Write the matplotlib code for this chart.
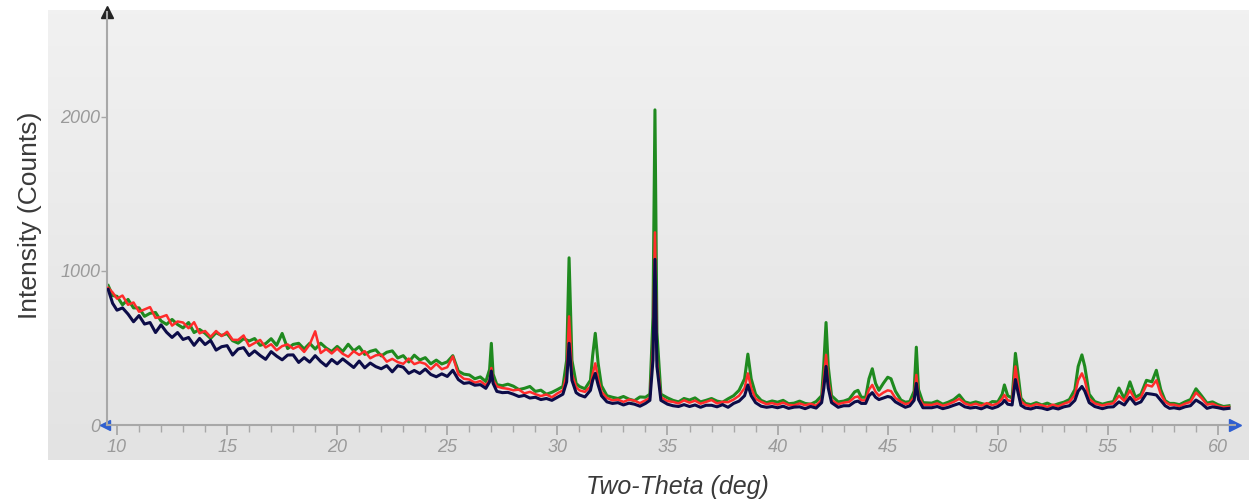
import matplotlib
matplotlib.use("Agg")
import matplotlib.pyplot as plt
import numpy as np

# diffraction pattern (2-theta in deg, intensity in counts)
two_theta = [
    9.6, 9.8,
    10.0, 10.25, 10.5, 10.75,
    11.0, 11.25, 11.5, 11.75,
    12.0, 12.25, 12.5, 12.75,
    13.0, 13.25, 13.5, 13.75,
    14.0, 14.25, 14.5, 14.75,
    15.0, 15.25, 15.5, 15.75,
    16.0, 16.25, 16.5, 16.75,
    17.0, 17.25, 17.5, 17.75,
    18.0, 18.25, 18.5, 18.75,
    19.0, 19.25, 19.5, 19.75,
    20.0, 20.25, 20.5, 20.75,
    21.0, 21.25, 21.5, 21.75,
    22.0, 22.25, 22.5, 22.75,
    23.0, 23.25, 23.5, 23.75,
    24.0, 24.25, 24.5, 24.75,
    25.0, 25.25, 25.5, 25.75,
    26.0, 26.25, 26.5, 26.75, 26.92,
    27.0, 27.08, 27.25, 27.5, 27.75,
    28.0, 28.25, 28.5, 28.75,
    29.0, 29.25, 29.5, 29.75,
    30.0, 30.25, 30.42, 30.53, 30.66, 30.85,
    31.0, 31.25, 31.5, 31.6, 31.72, 31.85,
    32.0, 32.25, 32.5, 32.75,
    33.0, 33.25, 33.5, 33.75,
    34.0, 34.2, 34.34, 34.43, 34.52, 34.7,
    35.0, 35.25, 35.5, 35.75,
    36.0, 36.25, 36.5, 36.75,
    37.0, 37.25, 37.5, 37.75,
    38.0, 38.25, 38.5, 38.65, 38.8,
    39.0, 39.25, 39.5, 39.75,
    40.0, 40.25, 40.5, 40.75,
    41.0, 41.25, 41.5, 41.75,
    42.0, 42.1, 42.2, 42.3, 42.45, 42.75,
    43.0, 43.25, 43.5, 43.65, 43.8,
    44.0, 44.15, 44.3, 44.45, 44.6, 44.8,
    45.0, 45.15, 45.35, 45.6, 45.8,
    46.0, 46.2, 46.3, 46.4, 46.6,
    47.0, 47.25, 47.5, 47.75,
    48.0, 48.25, 48.5, 48.75,
    49.0, 49.25, 49.5, 49.75,
    50.0, 50.2, 50.3, 50.45, 50.65, 50.8, 50.92,
    51.05, 51.25, 51.5, 51.75,
    52.0, 52.25, 52.5, 52.75,
    53.0, 53.25, 53.5, 53.65, 53.82, 53.95,
    54.15, 54.4, 54.75,
    55.0, 55.25, 55.5, 55.75,
    56.0, 56.25, 56.5, 56.75,
    57.0, 57.2, 57.4, 57.6, 57.8,
    58.0, 58.25, 58.5, 58.75,
    59.0, 59.25, 59.5, 59.75,
    60.0, 60.25, 60.5,
]

green = [
    905, 840,
    835, 780, 815, 760,
    760, 705, 725, 730,
    675, 653, 685, 652,
    630, 665, 600, 620,
    595, 562, 599, 581,
    593, 547, 531, 560,
    545, 561, 517, 528,
    560, 517, 594, 496,
    523, 530, 493, 530,
    493, 531, 499, 477,
    510, 477, 524, 481,
    508, 458, 478, 488,
    448, 472, 481, 435,
    450, 409, 453, 422,
    437, 397, 421, 396,
    410, 450, 350, 330,
    325, 300, 312, 282, 360,
    530, 330, 262, 255, 265,
    252, 230, 238, 250,
    218, 226, 200, 212,
    230, 250, 420, 1085, 420, 270,
    250, 235, 290, 450, 595, 400,
    255, 190, 180, 172,
    185, 168, 158, 182,
    180, 200, 700, 2045, 600, 200,
    176, 160, 150, 172,
    162, 176, 150, 160,
    172, 155, 148, 170,
    190, 225, 300, 460, 300,
    200, 160, 145, 156,
    148, 160, 138, 142,
    155, 140, 135, 152,
    190, 400, 665, 380, 190, 150,
    155, 168, 215, 225, 180,
    180, 300, 365, 270, 225, 270,
    310, 300, 220, 162, 148,
    152, 220, 505, 230, 145,
    142, 155, 135, 148,
    165, 195, 150, 140,
    150, 140, 130, 152,
    150, 200, 260, 190, 175, 465, 330,
    175, 140, 132, 145,
    130, 142, 125, 138,
    148, 165, 230, 380, 455, 380,
    200, 152, 135,
    145, 152, 240, 170,
    280, 180, 200, 290,
    280, 355, 230, 158, 140,
    140, 132, 150, 165,
    235, 190, 142, 150,
    132, 120, 125,
]

red = [
    890, 860,
    820, 840, 780, 795,
    735, 750, 765, 695,
    700, 713, 645, 672,
    665, 628, 667, 595,
    610, 572, 610, 577,
    605, 553, 552, 581,
    512, 532, 552, 503,
    524, 485, 512, 523,
    495, 512, 474, 522,
    608, 467, 493, 464,
    496, 462, 443, 479,
    455, 479, 433, 452,
    457, 411, 429, 408,
    397, 431, 395, 408,
    397, 362, 397, 362,
    375, 445, 330, 300,
    295, 275, 285, 258, 290,
    370, 290, 250, 240, 235,
    225, 230, 205, 215,
    200, 188, 198, 180,
    205, 225, 330, 705, 330, 245,
    225, 215, 250, 330, 400, 300,
    215, 175, 160, 165,
    150, 165, 158, 142,
    160, 175, 500, 1250, 420, 180,
    155, 150, 140, 160,
    145, 158, 138, 150,
    162, 140, 150, 148,
    165, 190, 240, 335, 240,
    170, 150, 135, 142,
    132, 145, 130, 128,
    140, 128, 138, 125,
    165, 300, 455, 290, 160, 135,
    145, 150, 180, 185, 160,
    160, 230, 260, 215, 190, 210,
    225, 220, 175, 150, 136,
    142, 180, 325, 185, 132,
    130, 140, 125, 135,
    150, 170, 140, 128,
    138, 125, 142, 128,
    140, 170, 195, 160, 155, 380, 260,
    155, 130, 122, 135,
    128, 118, 132, 120,
    138, 150, 195, 290, 335, 290,
    170, 140, 126,
    136, 140, 190, 155,
    225, 160, 180, 260,
    250, 290, 200, 150, 132,
    132, 122, 138, 150,
    210, 175, 132, 138,
    122, 115, 118,
]

blue = [
    880, 790,
    745, 760, 720, 670,
    710, 655, 665, 600,
    650, 602, 568, 600,
    555, 568, 517, 562,
    522, 549, 486, 508,
    515, 454, 493, 502,
    451, 481, 451, 426,
    476, 447, 423, 454,
    455, 406, 437, 408,
    450, 412, 383, 425,
    397, 429, 401, 373,
    415, 371, 402, 379,
    365, 385, 345, 385,
    375, 335, 354, 334,
    363, 328, 313, 332,
    315, 355, 295, 270,
    275, 258, 262, 238, 280,
    350, 270, 218, 210, 212,
    200, 185, 192, 175,
    180, 165, 172, 160,
    180, 200, 280, 530, 290, 210,
    195, 182, 225, 290, 335, 260,
    190, 150, 140, 145,
    130, 142, 135, 122,
    140, 160, 420, 1075, 380, 160,
    135, 125, 120, 132,
    120, 130, 115, 128,
    128, 118, 132, 115,
    140, 155, 190, 260, 190,
    145, 122, 115, 120,
    112, 122, 108, 116,
    118, 106, 120, 110,
    145, 240, 380, 240, 145, 115,
    125, 125, 150, 155, 140,
    140, 190, 210, 180, 165, 175,
    185, 180, 150, 130, 115,
    124, 160, 270, 165, 112,
    112, 120, 106, 115,
    128, 140, 118, 110,
    115, 105, 120, 108,
    120, 140, 160, 135, 130, 295, 210,
    128, 110, 104, 115,
    110, 100, 112, 104,
    118, 125, 160, 220, 250, 220,
    145, 120, 106,
    116, 118, 150, 130,
    180, 135, 150, 205,
    200, 195, 160, 125, 108,
    112, 105, 118, 125,
    162, 140, 108, 118,
    112, 104, 108,
]

W, H = 1249, 503
fig = plt.figure(figsize=(W / 100, H / 100), dpi=100)
fig.patch.set_facecolor("white")

# grey gradient panel behind the plot
bg = fig.add_axes([48 / W, 1 - 460 / H, (W - 48) / W, 450 / H])
grad = np.linspace(0, 1, 100).reshape(-1, 1)
bg.imshow(grad, aspect="auto", cmap=plt.matplotlib.colors.LinearSegmentedColormap.from_list(
    "panel", ["#f1f1f1", "#e3e3e3"]), extent=[0, 1, 0, 1], origin="upper")
bg.set_axis_off()

ax = fig.add_axes([107 / W, 1 - 425 / H, (1235 - 107) / W, (425 - 12) / H])
ax.patch.set_alpha(0)
x0 = 10 - 10 / 22.02
ax.set_xlim(x0, x0 + (1235 - 107) / 22.02)
ax.set_ylim(0, 2680)

# green underneath, red over it, dark blue on top
ax.plot(two_theta, green, color="#1f8a1f", lw=2.2, zorder=2)
ax.plot(two_theta, red, color="#ff2b2b", lw=1.8, zorder=3)
ax.plot(two_theta, blue, color="#0c0c48", lw=2.2, zorder=4)

for s in ["top", "right"]:
    ax.spines[s].set_visible(False)
for s in ["left", "bottom"]:
    ax.spines[s].set_color("#a8a8a8")
    ax.spines[s].set_linewidth(1.5)

tick_font = dict(family="Liberation Sans", style="italic", size=13)
ax.set_xticks(range(10, 61, 5))
ax.set_xticks(range(10, 61), minor=True)
ax.set_xticklabels([str(v) for v in range(10, 61, 5)], color="#9a9a9a", **tick_font)
ax.set_yticks([0, 1000, 2000])
ax.set_yticklabels(["0", "1000", "2000"], color="#9a9a9a", **tick_font)
ax.tick_params(axis="x", which="major", length=7, width=1.3, color="#a8a8a8", pad=3)
ax.tick_params(axis="x", which="minor", length=5, width=1.0, color="#a8a8a8")
ax.tick_params(axis="y", which="major", length=4, width=1.0, color="#a8a8a8", pad=1)

# axis arrows
ax.plot([0], [1], marker="^", color="#222222", ms=8, transform=ax.transAxes, clip_on=False)
ax.plot([1], [0], marker=">", color="#2f5fd0", ms=8, transform=ax.transAxes, clip_on=False)
ax.plot([-0.002], [0], marker="<", color="#2f5fd0", ms=7, transform=ax.transAxes, clip_on=False)

fig.text(677 / W, 1 - 487 / H, "Two-Theta (deg)", ha="center", va="center",
         family="Liberation Sans", style="italic", size=18, color="#3a3a3a")
fig.text(30 / W, 1 - 215 / H, "Intensity (Counts)", ha="center", va="center",
         rotation=90, family="Liberation Sans", size=19, color="#3a3a3a")

fig.savefig("out.png", dpi=100)
